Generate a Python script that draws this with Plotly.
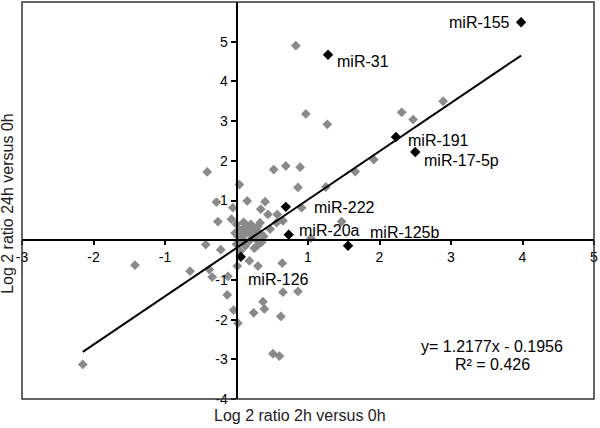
import plotly.graph_objects as go

# Gray (other miRNAs) points: log2 ratio 2h vs 0h (x), 24h vs 0h (y)
gray_x = [0.83, 0.97, 1.27, 2.31, 2.47, 2.89, 1.92, 1.66, 0.52, 0.69, 0.89, 0.86, 1.25,
          0.04, -0.41, -0.28, -0.05, 0.15, 0.40, 0.91, 0.34, 0.44, 0.57, 0.65, 1.47, 1.04,
          -0.26, -0.07, 0.56, 0.47, 0.33,
          0.00, 0.10, 0.20, 0.05, 0.15, 0.25, 0.30, 0.02, 0.12, 0.22, 0.32, 0.38, 0.08, 0.18,
          0.28, 0.00, 0.12, 0.25, 0.35, 0.05, 0.20, 0.10, -0.02, 0.30,
          -0.43, -0.22, -1.42, -0.65, -0.38, -0.34, -0.12, 0.01, 0.18, 0.30, 0.64, 0.65, 0.86,
          0.37, 0.39, 0.24, 0.62, -0.13, -0.04, 0.02, 0.51, 0.60, -2.15]
gray_y = [4.90, 3.18, 2.92, 3.22, 3.04, 3.50, 2.03, 1.73, 1.78, 1.87, 1.84, 1.33, 1.34,
          1.40, 1.72, 0.96, 0.82, 0.99, 0.97, 0.82, 0.78, 0.65, 0.65, 0.49, 0.47, 0.05,
          0.47, 0.53, 0.44, 0.28, 0.44,
          0.40, 0.45, 0.40, 0.25, 0.30, 0.25, 0.35, 0.10, 0.15, 0.12, 0.18, 0.10, 0.00, -0.02,
          0.02, -0.10, -0.15, -0.20, -0.05, -0.28, 0.22, 0.30, 0.18, -0.12,
          -0.11, -0.24, -0.63, -0.78, -0.74, -0.93, -0.91, -0.65, -0.52, -0.65, -0.58, -1.31, -1.29,
          -1.55, -1.73, -1.83, -1.92, -1.38, -1.76, -2.09, -2.86, -2.92, -3.13]

# Highlighted miRNAs
hl_names = ["miR-155", "miR-31", "miR-191", "miR-17-5p", "miR-222", "miR-20a", "miR-125b", "miR-126"]
hl_x = [3.98, 1.28, 2.23, 2.50, 0.69, 0.73, 1.56, 0.06]
hl_y = [5.49, 4.67, 2.60, 2.22, 0.84, 0.14, -0.14, -0.42]
# label anchor positions (data coords) and horizontal anchor
lab_x = [3.86, 1.38, 2.37, 2.59, 1.06, 0.84, 1.835, 0.13]
lab_y = [5.49, 4.50, 2.50, 2.00, 0.82, 0.25, 0.20, -0.98]
lab_anchor = ["right", "left", "left", "left", "left", "left", "left", "left"]

# Trend line
slope = 1.2177
intercept = -0.1956
eq_text = "y= 1.2177x - 0.1956"
r2_text = "R² = 0.426"

x_ticks = [-3, -2, -1, 1, 2, 3, 4, 5]
y_ticks = [-4, -3, -2, -1, 1, 2, 3, 4, 5]
x_range = [-3, 5]
y_range = [-4, 6]

FONT = "Liberation Sans, Arial, sans-serif"

all_x = gray_x + hl_x
x0, x1 = min(all_x), max(all_x)

fig = go.Figure()
fig.add_trace(go.Scatter(x=gray_x, y=gray_y, mode="markers",
                         marker=dict(symbol="diamond", size=7.5, color="#8a8a8a"),
                         showlegend=False, hoverinfo="skip"))
fig.add_trace(go.Scatter(x=[x0, x1], y=[slope * x0 + intercept, slope * x1 + intercept],
                         mode="lines", line=dict(color="black", width=2),
                         showlegend=False, hoverinfo="skip"))
fig.add_trace(go.Scatter(x=hl_x, y=hl_y, mode="markers",
                         marker=dict(symbol="diamond", size=8, color="black"),
                         showlegend=False, hoverinfo="skip"))

annotations = []
for n, lx, ly, a in zip(hl_names, lab_x, lab_y, lab_anchor):
    annotations.append(dict(x=lx, y=ly, xref="x", yref="y", text=n, showarrow=False,
                            xanchor=a, yanchor="middle", font=dict(size=16, color="black")))
annotations.append(dict(x=3.58, y=-2.67, xref="x", yref="y", text=eq_text, showarrow=False,
                        xanchor="center", yanchor="middle", font=dict(size=16, color="black")))
annotations.append(dict(x=3.58, y=-3.13, xref="x", yref="y", text=r2_text, showarrow=False,
                        xanchor="center", yanchor="middle", font=dict(size=16, color="black")))
annotations.append(dict(x=0.486, y=-0.042, xref="paper", yref="paper",
                        text="Log 2 ratio 2h versus 0h", showarrow=False,
                        xanchor="center", yanchor="middle", font=dict(size=16, color="#222")))
annotations.append(dict(x=-0.0245, y=0.494, xref="paper", yref="paper",
                        text="Log 2 ratio 24h versus 0h", showarrow=False, textangle=-90,
                        xanchor="center", yanchor="middle", font=dict(size=16, color="#222")))

fig.update_layout(
    width=600, height=428,
    margin=dict(l=22, r=6, t=2, b=29),
    paper_bgcolor="white", plot_bgcolor="white",
    font=dict(family=FONT, color="black"),
    annotations=annotations,
    shapes=[dict(type="rect", xref="paper", yref="paper", x0=0, y0=0, x1=1, y1=1,
                 line=dict(color="#333", width=1.5), layer="above")],
    xaxis=dict(range=x_range, tickvals=x_ticks, ticktext=[str(v) for v in x_ticks],
               anchor="free", position=(0 - y_range[0]) / (y_range[1] - y_range[0]),
               showline=True, linecolor="black", linewidth=2, automargin=False,
               ticks="outside", ticklen=4, tickcolor="black", tickwidth=1.5,
               showgrid=False, zeroline=False, tickfont=dict(size=14)),
    yaxis=dict(range=y_range, tickvals=y_ticks, ticktext=[str(v) for v in y_ticks],
               anchor="free", position=(0 - x_range[0]) / (x_range[1] - x_range[0]),
               showline=True, linecolor="black", linewidth=2, automargin=False,
               ticks="outside", ticklen=5, tickcolor="black", tickwidth=1.5,
               showgrid=False, zeroline=False, tickfont=dict(size=14)),
)

fig.write_html("out.html", config={"displayModeBar": False},
               post_script="document.body.style.margin='0';")
